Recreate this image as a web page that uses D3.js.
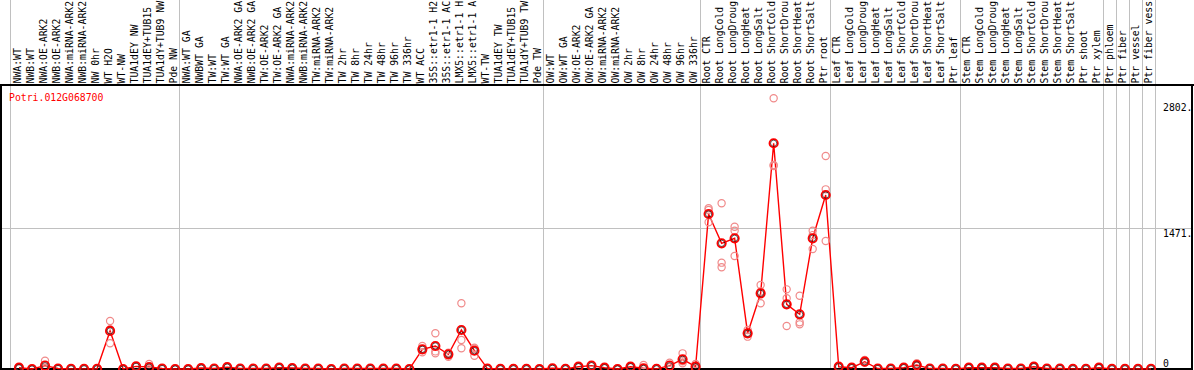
<!DOCTYPE html>
<html lang="en">
<head>
<meta charset="UTF-8">
<title>Potri.012G068700</title>
<script src="https://cdn.jsdelivr.net/npm/d3@7"></script>
<style>
    body { margin: 0; background: #fff; }
    svg { display: block; }
    text { font-family: "DejaVu Sans Mono", monospace; font-size: 9.8px; }
    .frame, .grid { shape-rendering: crispEdges; }
</style>
</head>
<body>
<div id="container"></div>
<script>
    const geneName = "Potri.012G068700";

    const samples = [
        "NWA:WT","NWB:WT","NWA:OE-ARK2","NWB:OE-ARK2","NWA:miRNA-ARK2","NWB:miRNA-ARK2","NW 0hr","WT H2O","WT-NW","TUA1dEY NW","TUA1dEY+TUB15","TUA1dY+TUB9 NW","Pde NW",
        "NWA:WT GA","NWBWT GA","TW:WT","TW:WT GA","NWA:OE-ARK2 GA","NWB:OE-ARK2 GA","TW:OE-ARK2","TW:OE-ARK2 GA","NWA:miRNA-ARK2","NWB:miRNA-ARK2","TW:miRNA-ARK2","TW:miRNA-ARK2","TW 2hr","TW 8hr","TW 24hr","TW 48hr","TW 96hr","TW 336hr","WT ACC","35S::etr1-1 H2","35S::etr1-1 AC","LMX5::etr1-1 H","LMX5::etr1-1 A","WT-TW","TUA1dEY TW","TUA1dEY+TUB15","TUA1dY+TUB9 TW","Pde TW",
        "OW:WT","OW:WT GA","OW:OE-ARK2","OW:OE-ARK2 GA","OW:miRNA-ARK2","OW:miRNA-ARK2","OW 2hr","OW 8hr","OW 24hr","OW 48hr","OW 96hr","OW 336hr",
        "Root CTR","Root LongCold","Root LongDroug","Root LongHeat","Root LongSalt","Root ShortCold","Root ShortDrou","Root ShortHeat","Root ShortSalt","Ptr root",
        "Leaf CTR","Leaf LongCold","Leaf LongDroug","Leaf LongHeat","Leaf LongSalt","Leaf ShortCold","Leaf ShortDrou","Leaf ShortHeat","Leaf ShortSalt","Ptr leaf",
        "Stem CTR","Stem LongCold","Stem LongDroug","Stem LongHeat","Stem LongSalt","Stem ShortCold","Stem ShortDrou","Stem ShortHeat","Stem ShortSalt","Ptr shoot","Ptr xylem",
        "Ptr phloem","Ptr fiber","Ptr vessel","Ptr fiber vess"
    ];

    // index of the first sample of each group (last entry = end)
    const groupStarts = [0, 13, 41, 53, 63, 73, 84, 85, 86, 87, 88];

    const means = [
        24, 10, 45, 15, 12, 12, 12, 405, 10, 38, 31, 15, 10,
        10, 20, 15, 30, 15, 15, 15, 25, 20, 15, 15, 10, 15, 15, 15, 15, 15, 10, 215, 249, 163, 415, 200, 15, 12, 12, 12, 10,
        18, 12, 34, 45, 24, 10, 34, 18, 12, 45, 111, 34,
        1619, 1315, 1367, 381, 796, 2353, 682, 578, 1367, 1816,
        34, 24, 86, 15, 15, 24, 52, 15, 15, 12,
        24, 24, 24, 15, 15, 34, 15, 15, 12, 12, 24,
        12, 12, 12, 12
    ];

    const replicates = [
        [24,30,18],[10,10,10],[97,20,18],[15,15,15],[12,12,12],[12,12,12],[12,12,12],[508,423,277],[10,10,10],[38,38,38],[62,18,13],[15,15,15],[10,10,10],
        [10,10,10],[20,20,20],[15,15,15],[30,30,30],[15,15,15],[15,15,15],[15,15,15],[25,25,25],[20,20,20],[15,15,15],[15,15,15],[10,10,10],[15,15,15],[15,15,15],[15,15,15],[15,15,15],[15,15,15],[10,10,10],
        [249,212,184],[381,193,173],[180,170,138],[692,311,225],[231,221,148],[15,15,15],[12,12,12],[12,12,12],[12,12,12],[10,10,10],
        [18,18,18],[12,12,12],[34,34,34],[45,45,45],[24,24,24],[10,10,10],[34,34,34],[52,10,10],[12,12,12],[76,30,30],[173,90,70],[62,20,20],
        [1678,1660,1533],[1730,1114,1066],[1487,1446,1183],[415,381,346],[882,814,692],[2820,2127,2117],[837,744,457],[771,495,474],[1446,1400,1256],[2221,1875,1339],
        [34,34,34],[24,24,24],[104,80,74],[15,15,15],[15,15,15],[24,24,24],[70,45,41],[15,15,15],[15,15,15],[12,12,12],
        [24,24,24],[24,24,24],[24,24,24],[15,15,15],[15,15,15],[34,34,34],[15,15,15],[15,15,15],[12,12,12],[12,12,12],[24,24,24],
        [12,12,12],[12,12,12],[12,12,12],[12,12,12]
    ];

    const yTicks = [0, 1471, 2802];
    const yTickLabels = ["0", "1471.", "2802."];

    const width = 1194, height = 370;
    const plotTop = 85, plotRight = 1192;

    const svg = d3.select("#container")
        .append("svg")
        .attr("width", width)
        .attr("height", height);

    // scales
    const xBound = d3.scaleLinear().domain([0, samples.length]).range([10, 1155]);
    const xPos = i => xBound(i) + 9;
    const yScale = d3.scaleLinear().domain([0, 2802]).range([370, 100]);

    // group separators
    svg.append("g")
        .attr("class", "grid")
        .selectAll("line")
        .data(groupStarts)
        .join("line")
        .attr("x1", d => Math.round(xBound(d)))
        .attr("x2", d => Math.round(xBound(d)))
        .attr("y1", 0)
        .attr("y2", height)
        .attr("stroke", "#c0c0c0")
        .attr("stroke-width", 1);

    // horizontal grid line
    svg.append("line")
        .attr("class", "grid")
        .attr("x1", 0).attr("x2", plotRight)
        .attr("y1", Math.round(yScale(1471)))
        .attr("y2", Math.round(yScale(1471)))
        .attr("stroke", "#c0c0c0")
        .attr("stroke-width", 1);

    // frame
    const frame = svg.append("g").attr("class", "frame").attr("stroke", "#000").attr("stroke-width", 2);
    frame.append("line").attr("x1", 0).attr("x2", width).attr("y1", plotTop).attr("y2", plotTop);
    frame.append("line").attr("x1", 1).attr("x2", 1).attr("y1", plotTop).attr("y2", height);
    frame.append("line").attr("x1", plotRight).attr("x2", plotRight).attr("y1", plotTop).attr("y2", height);
    frame.append("line").attr("x1", 0).attr("x2", plotRight).attr("y1", 369).attr("y2", 369);

    // sample labels
    svg.append("g")
        .selectAll("text")
        .data(samples)
        .join("text")
        .attr("transform", (d, i) => `translate(${xPos(i) + 1.5},${plotTop - 1.5}) rotate(-90)`)
        .attr("fill", "#000")
        .text(d => d);

    // gene name
    svg.append("text")
        .attr("x", 9)
        .attr("y", 100.5)
        .attr("fill", "#ff0000")
        .text(geneName);

    // y tick labels
    svg.append("g")
        .selectAll("text")
        .data(yTicks)
        .join("text")
        .attr("x", 1163)
        .attr("y", d => Math.max(110.7, Math.min(366.5, yScale(d) + 8.3)))
        .attr("fill", "#000")
        .text((d, i) => yTickLabels[i]);

    // mean line
    const line = d3.line()
        .x((d, i) => xPos(i))
        .y(d => yScale(d));
    svg.append("path")
        .datum(means)
        .attr("d", line)
        .attr("fill", "none")
        .attr("stroke", "#ff0000")
        .attr("stroke-width", 1.4);

    // replicate points
    const reps = replicates.flatMap((r, i) => r.map(v => ({i, v})));
    svg.append("g")
        .selectAll("circle")
        .data(reps)
        .join("circle")
        .attr("cx", d => xPos(d.i))
        .attr("cy", d => yScale(d.v))
        .attr("r", 3.6)
        .attr("fill", "none")
        .attr("stroke", "#f08a8a")
        .attr("stroke-width", 1.2);

    // mean points
    const meanG = svg.append("g");
    meanG.selectAll(".outer")
        .data(means)
        .join("circle")
        .attr("class", "outer")
        .attr("cx", (d, i) => xPos(i))
        .attr("cy", d => yScale(d))
        .attr("r", 4.2)
        .attr("fill", "none")
        .attr("stroke", "#ff0000")
        .attr("stroke-width", 1.8);
    meanG.selectAll(".inner")
        .data(means)
        .join("circle")
        .attr("class", "inner")
        .attr("cx", (d, i) => xPos(i))
        .attr("cy", d => yScale(d))
        .attr("r", 3.1)
        .attr("fill", "none")
        .attr("stroke", "#000")
        .attr("stroke-width", 0.6);
</script>
</body>
</html>
